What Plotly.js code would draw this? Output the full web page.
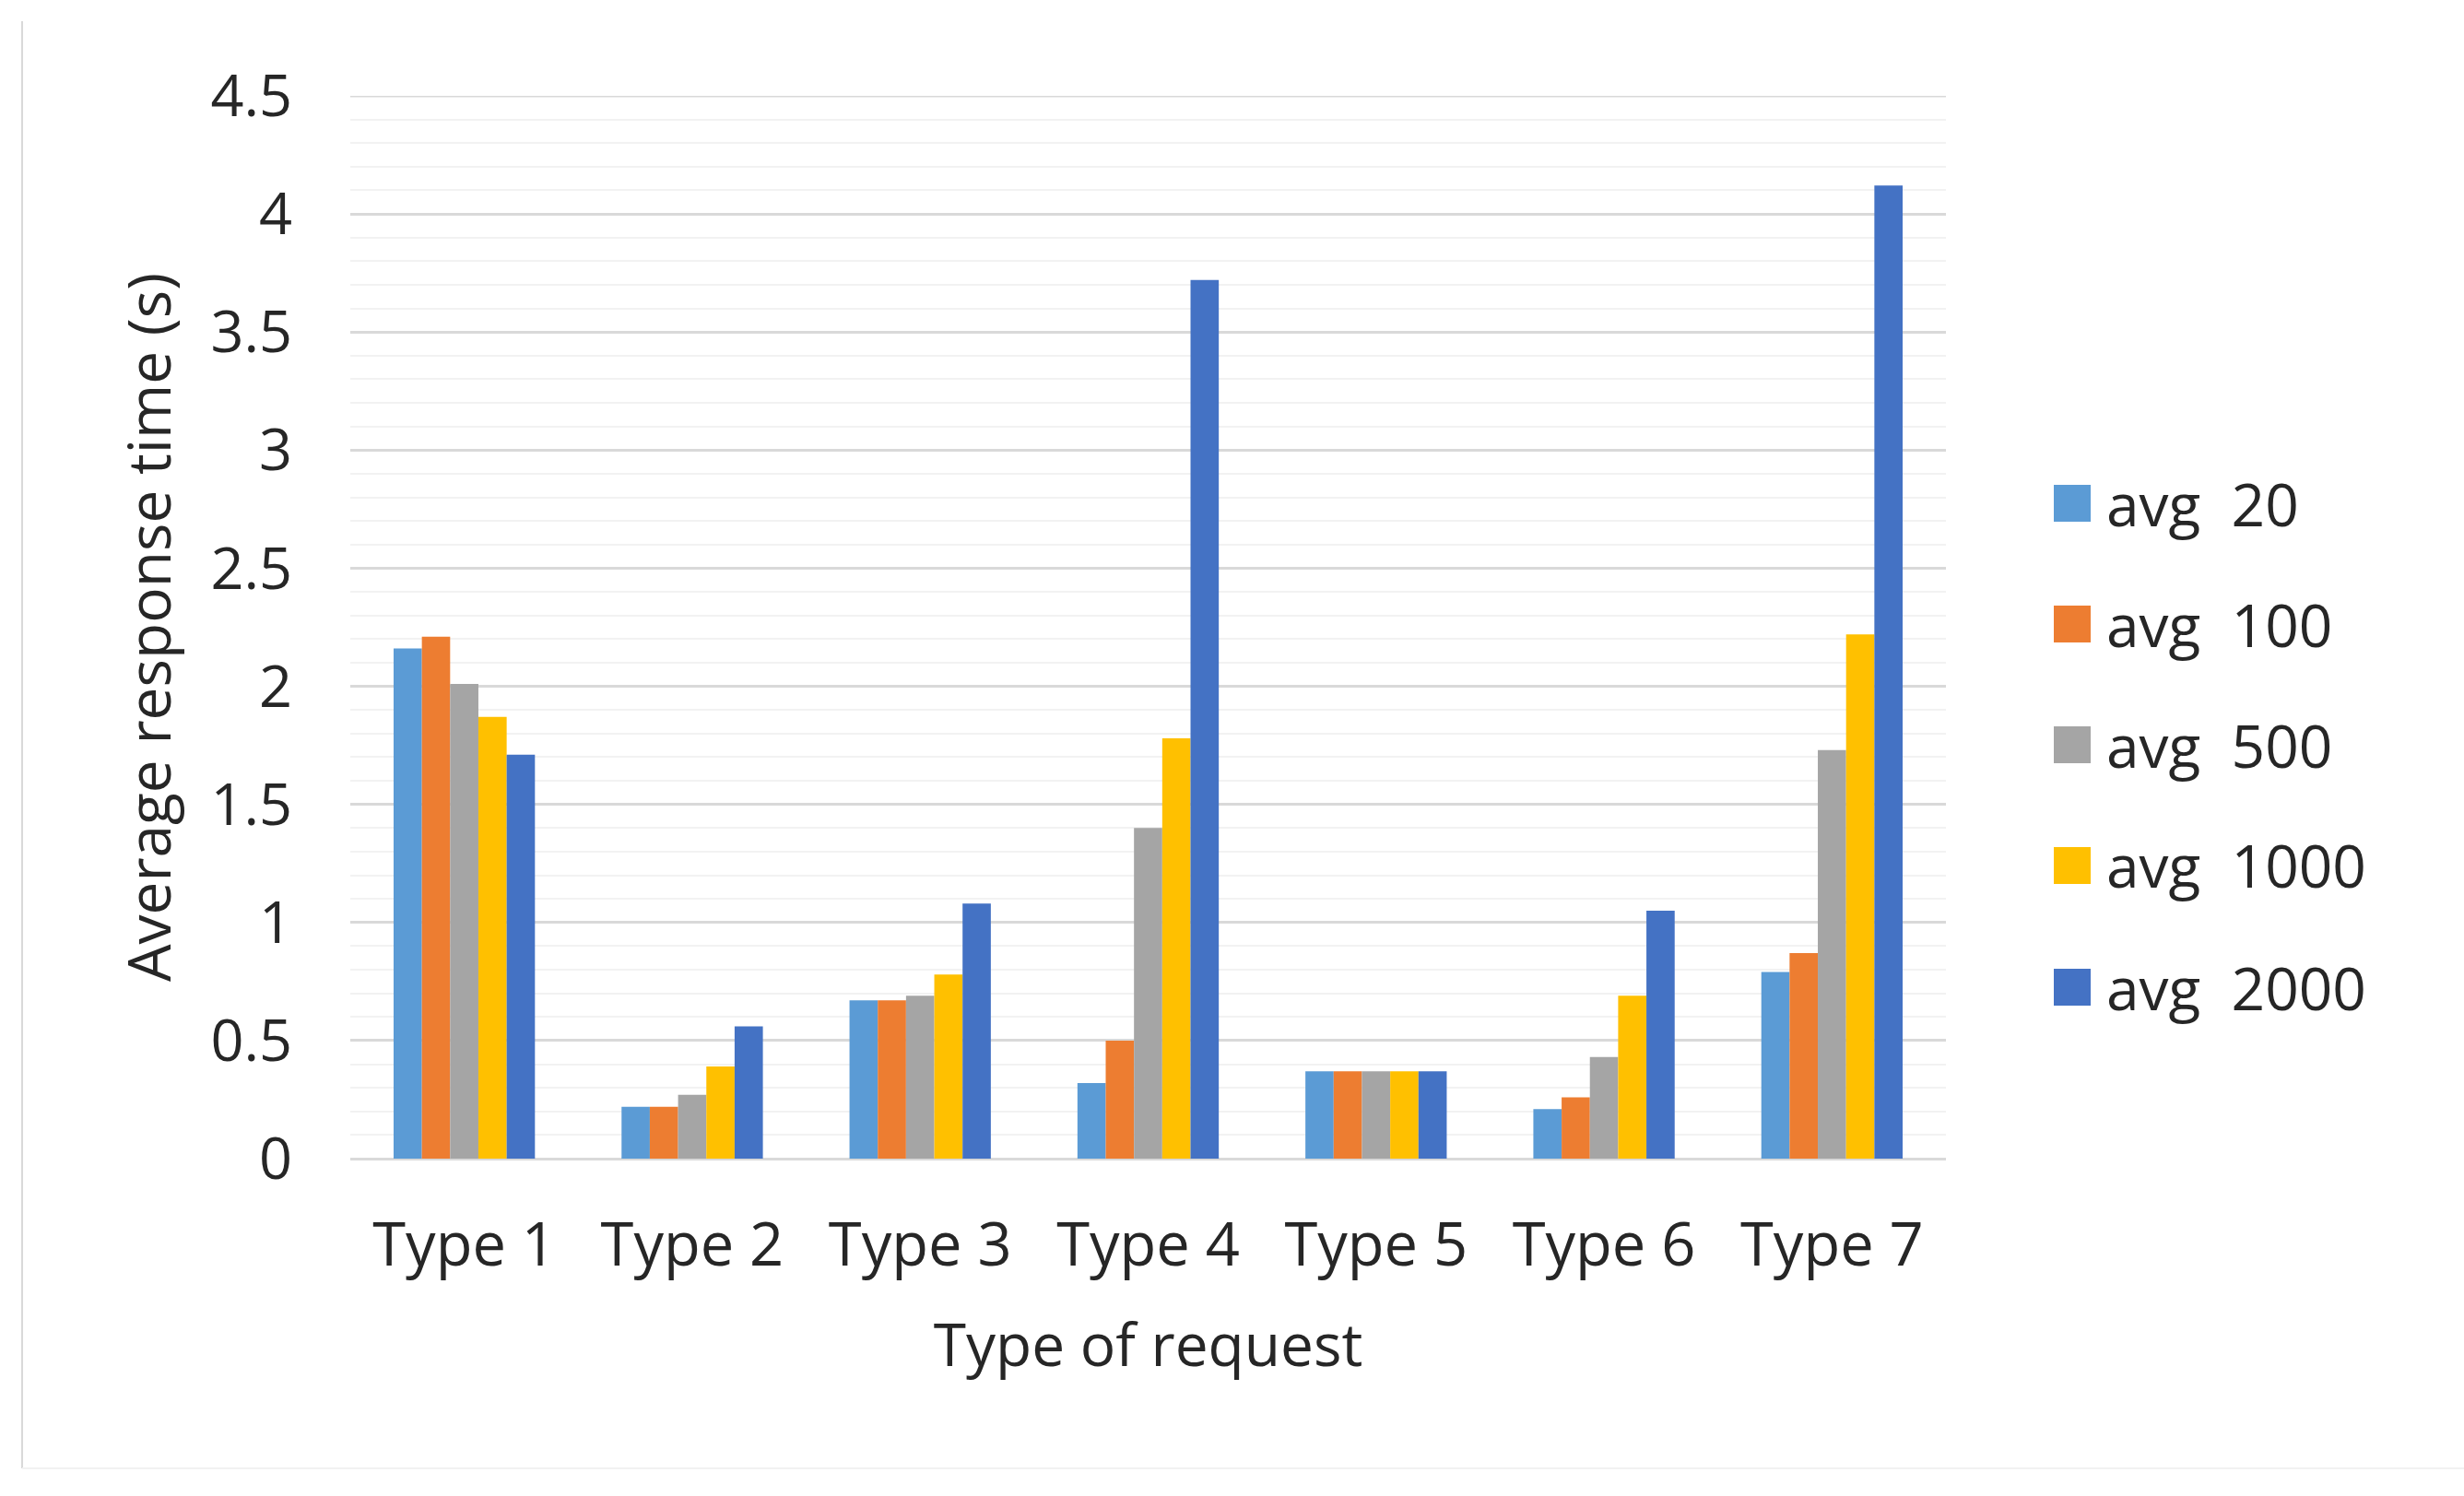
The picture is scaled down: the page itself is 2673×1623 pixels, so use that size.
<!DOCTYPE html>
<html>
<head>
<meta charset="utf-8">
<script src="https://cdn.plot.ly/plotly-3.0.1.min.js"></script>
<style>
  html, body { margin: 0; padding: 0; background: #ffffff; }
  #chart { width: 2673px; height: 1623px; }
</style>
</head>
<body>
<div id="chart"></div>
<script>
// ---- data ----
const categories = ['Type 1', 'Type 2', 'Type 3', 'Type 4', 'Type 5', 'Type 6', 'Type 7'];
const seriesNames = ['avg 20', 'avg 100', 'avg 500', 'avg 1000', 'avg 2000'];
const avg20   = [2.16, 0.22, 0.67, 0.32, 0.37, 0.21, 0.79];
const avg100  = [2.21, 0.22, 0.67, 0.50, 0.37, 0.26, 0.87];
const avg500  = [2.01, 0.27, 0.69, 1.40, 0.37, 0.43, 1.73];
const avg1000 = [1.87, 0.39, 0.78, 1.78, 0.37, 0.69, 2.22];
const avg2000 = [1.71, 0.56, 1.08, 3.72, 0.37, 1.05, 4.12];
const yTickValues = [0, 0.5, 1, 1.5, 2, 2.5, 3, 3.5, 4, 4.5];
const yTickLabels = ['0', '0.5', '1', '1.5', '2', '2.5', '3', '3.5', '4', '4.5'];
const yMax = 4.5;
const xTitle = 'Type of request';
const yTitle = 'Average response time (s)';

// ---- styles ----
const seriesValues = [avg20, avg100, avg500, avg1000, avg2000];
const colors = ['#5B9BD5', '#ED7D31', '#A5A5A5', '#FFC000', '#4472C4'];
const FONT = '"Open Sans", "Noto Sans", sans-serif';
const TXT = '#262626';
const W = 2673, H = 1623;
const M = { l: 380, r: W - 2111, t: 104, b: H - 1257 };
const plotW = W - M.l - M.r, plotH = H - M.t - M.b;
const px2paperX = px => (px - M.l) / plotW;
const px2paperY = py => (H - M.b - py) / plotH;

const traces = seriesNames.map((name, i) => ({
  type: 'bar',
  name: name,
  x: categories,
  y: seriesValues[i],
  marker: { color: colors[i], line: { width: 0 } },
  showlegend: false,
  hoverinfo: 'x+y+name'
}));

// manual legend (large squares like the reference)
const legendYpx = [546, 677, 808, 939, 1071];
const shapes = [];
const annotations = [];

// top major gridline at the range end
shapes.push({
  type: 'line', xref: 'paper', yref: 'y',
  x0: 0, x1: 1, y0: yMax, y1: yMax,
  line: { color: '#d9d9d9', width: 3 }, layer: 'below'
});

seriesNames.forEach((name, i) => {
  const yp = px2paperY(legendYpx[i]);
  shapes.push({
    type: 'rect', xref: 'paper', yref: 'paper',
    xsizemode: 'pixel', ysizemode: 'pixel',
    xanchor: px2paperX(2248), yanchor: yp,
    x0: -20, x1: 20, y0: -20, y1: 20,
    fillcolor: colors[i], line: { width: 0 }
  });
  annotations.push({
    xref: 'paper', yref: 'paper',
    x: px2paperX(2283), y: yp,
    xanchor: 'left', yanchor: 'middle',
    text: name.replace(' ', '\u00a0\u00a0'),
    showarrow: false,
    font: { family: FONT, size: 64, color: TXT }
  });
});

// faint frame lines (left and bottom) as in the reference
shapes.push({
  type: 'line', xref: 'paper', yref: 'paper',
  x0: px2paperX(24), x1: px2paperX(24),
  y0: px2paperY(23), y1: px2paperY(1593),
  line: { color: '#d9d9d9', width: 2 }
});
shapes.push({
  type: 'line', xref: 'paper', yref: 'paper',
  x0: px2paperX(24), x1: px2paperX(2673),
  y0: px2paperY(1593), y1: px2paperY(1593),
  line: { color: '#f2f2f2', width: 2 }
});

const layout = {
  width: W, height: H,
  margin: M,
  paper_bgcolor: '#ffffff',
  plot_bgcolor: '#ffffff',
  barmode: 'group',
  bargap: 0.38,
  bargroupgap: 0,
  showlegend: false,
  font: { family: FONT, size: 64, color: TXT },
  xaxis: {
    type: 'category',
    tickvals: categories,
    ticktext: categories,
    showgrid: false,
    zeroline: false,
    showline: false,
    ticks: '',
    ticklabelstandoff: 50,
    tickfont: { family: FONT, size: 65, color: TXT },
    title: { text: xTitle, font: { family: FONT, size: 64, color: TXT }, standoff: 46 },
    automargin: false
  },
  yaxis: {
    range: [0, yMax],
    tickvals: yTickValues,
    ticktext: yTickLabels,
    showgrid: true,
    gridcolor: '#d9d9d9',
    gridwidth: 3,
    minor: { dtick: 0.1, showgrid: true, gridcolor: '#f2f2f2', gridwidth: 2, ticks: '' },
    zeroline: true,
    zerolinecolor: '#d9d9d9',
    zerolinewidth: 3,
    showline: false,
    ticks: '',
    ticklabelstandoff: 62,
    tickfont: { family: FONT, size: 63, color: TXT },
    title: { text: yTitle, font: { family: FONT, size: 64, color: TXT }, standoff: 22 },
    automargin: false
  },
  shapes: shapes,
  annotations: annotations
};

Plotly.newPlot('chart', traces, layout, { staticPlot: true, displayModeBar: false });
</script>
</body>
</html>
